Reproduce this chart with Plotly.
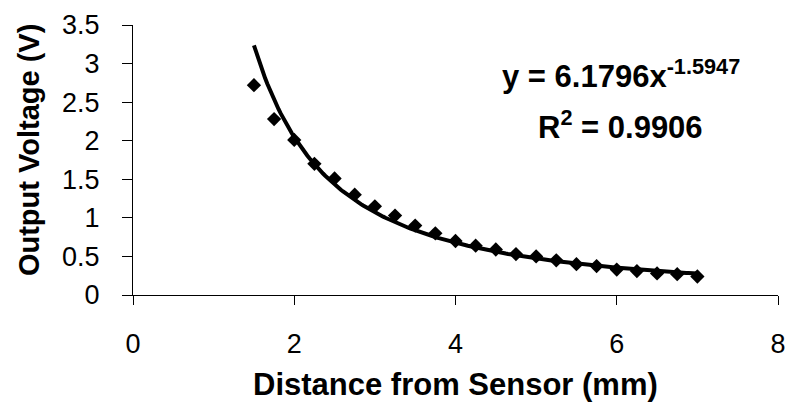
import numpy as np
import plotly.graph_objects as go

# Measured data (Distance in mm, Output voltage in V)
distance_mm = [1.5, 1.75, 2.0, 2.25, 2.5, 2.75, 3.0, 3.25, 3.5, 3.75, 4.0, 4.25,
               4.5, 4.75, 5.0, 5.25, 5.5, 5.75, 6.0, 6.25, 6.5, 6.75, 7.0]
voltage_v = [2.72, 2.28, 2.01, 1.70, 1.51, 1.30, 1.15, 1.03, 0.90, 0.80, 0.70, 0.64,
             0.59, 0.53, 0.50, 0.45, 0.40, 0.375, 0.33, 0.31, 0.28, 0.27, 0.24]

# Power trendline coefficients as printed on the chart
fit_a = 6.1796
fit_b = -1.5947
fit_r2 = 0.9906

x_ticks = [0, 2, 4, 6, 8]
y_ticks = [0, 0.5, 1, 1.5, 2, 2.5, 3, 3.5]

trend_x = np.linspace(min(distance_mm), max(distance_mm), 200)
trend_y = fit_a * trend_x ** fit_b

FONT = "Liberation Sans, Arial, sans-serif"

fig = go.Figure()
fig.add_trace(go.Scatter(
    x=distance_mm, y=voltage_v, mode="markers",
    marker=dict(symbol="diamond", size=11, color="black", line=dict(width=0)),
    showlegend=False,
))
fig.add_trace(go.Scatter(
    x=trend_x, y=trend_y, mode="lines",
    line=dict(color="black", width=4),
    showlegend=False,
))

fig.update_layout(
    width=796, height=417,
    margin=dict(l=133, r=10, t=20, b=122),
    paper_bgcolor="white", plot_bgcolor="white",
    font=dict(family=FONT, color="black"),
    xaxis=dict(
        range=[0, 8], tickvals=x_ticks, ticktext=[str(v) for v in x_ticks],
        showgrid=False, zeroline=False, showline=True, linecolor="black", linewidth=1,
        ticks="outside", ticklen=9, tickcolor="black", tickwidth=1,
        tickfont=dict(size=27, family=FONT, color="black"),
        ticklabelstandoff=16,
    ),
    yaxis=dict(
        range=[0, 3.5], tickvals=y_ticks, ticktext=[f"{v:g}" for v in y_ticks],
        showgrid=False, zeroline=False, showline=True, linecolor="black", linewidth=1,
        ticks="outside", ticklen=10, tickcolor="black", tickwidth=1,
        tickfont=dict(size=27, family=FONT, color="black"),
        ticklabelstandoff=17,
    ),
    annotations=[
        dict(text="<b>Distance from Sensor (mm)</b>", xref="paper", yref="paper",
             x=0.5, y=-0.33, xanchor="center", yanchor="middle", showarrow=False,
             font=dict(size=31, family=FONT, color="black")),
        dict(text="<b>Output Voltage (V)</b>", xref="paper", yref="paper",
             x=-0.162, y=0.535, xanchor="center", yanchor="middle", showarrow=False,
             textangle=-90, font=dict(size=29, family=FONT, color="black")),
        dict(text=f"<b>y = {fit_a}x<sup>{fit_b}</sup></b>", xref="x", yref="y",
             x=6.05, y=2.86, xanchor="center", yanchor="middle", showarrow=False,
             font=dict(size=31, family=FONT, color="black")),
        dict(text=f"<b>R<sup>2</sup> = {fit_r2}</b>", xref="x", yref="y",
             x=6.05, y=2.2, xanchor="center", yanchor="middle", showarrow=False,
             font=dict(size=31, family=FONT, color="black")),
    ],
)

fig.write_html("out.html")
